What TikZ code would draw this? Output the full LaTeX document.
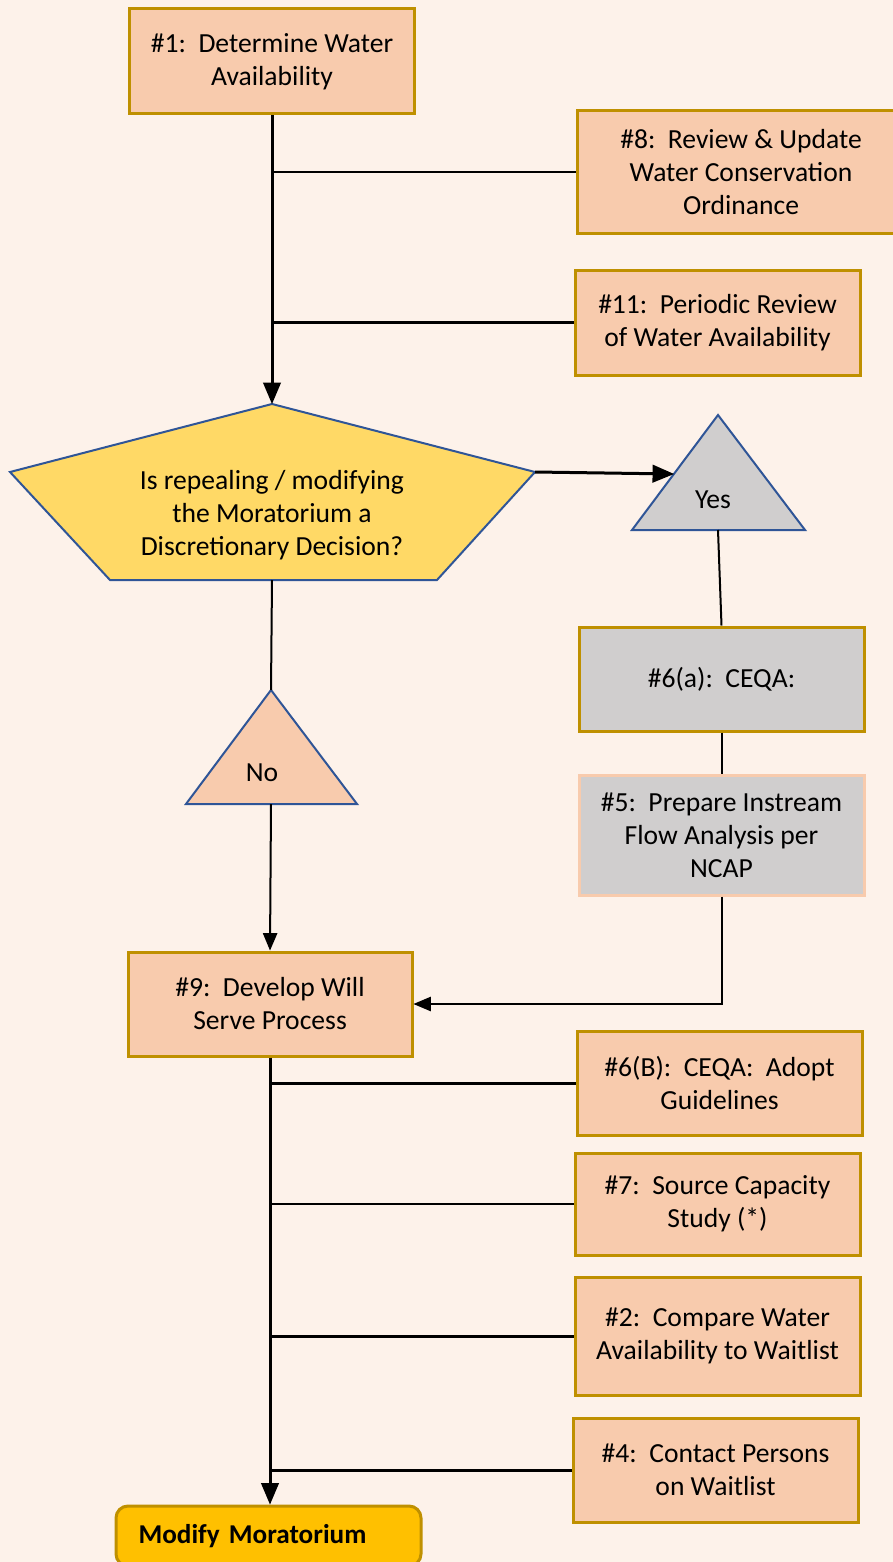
\documentclass[tikz,border=0pt]{standalone}
\usepackage{fontspec}
\setmainfont{Carlito}
\usetikzlibrary{arrows}

\definecolor{bgpeach}{HTML}{FDF2EA}
\definecolor{peach}{HTML}{F8CBAD}
\definecolor{goldline}{HTML}{BF9000}
\definecolor{greyfill}{HTML}{D0CECE}
\definecolor{yellowfill}{HTML}{FFD966}
\definecolor{goldfill}{HTML}{FFC000}
\definecolor{blueline}{HTML}{2F5597}

\tikzset{
    taskbox/.style={draw=goldline, line width=1.5pt, fill=peach, align=center,
        minimum width=142.5pt, minimum height=52.5pt, inner sep=2pt,
        font=\fontsize{13.8}{16.5}\selectfont},
    greybox/.style={taskbox, fill=greyfill},
    shapeline/.style={draw=blueline, line width=1pt},
    link/.style={line width=1pt},
    mainlink/.style={line width=1.5pt},
    label/.style={align=center, font=\fontsize{13.8}{16.5}\selectfont}
}

\begin{document}
\begin{tikzpicture}[x=0.5pt, y=-0.5pt]
    \useasboundingbox (0, 0) rectangle (893, 1562);
    \fill[bgpeach] (0, 0) rectangle (893, 1562);

    % Top column
    \node[taskbox] (avail) at (272, 61.5) {\#1:\ \ Determine Water\\Availability};
    \node[taskbox, minimum width=164pt, minimum height=61.5pt] (ordinance) at (741, 172.5)
        {\#8:\ \ Review \& Update\\Water Conservation\\Ordinance};
    \node[taskbox] (periodic) at (717.5, 322.5) {\#11:\ \ Periodic Review\\of Water Availability};

    % Decision
    \coordinate (dtop) at (272, 404);
    \coordinate (dright) at (535, 472);
    \coordinate (dbr) at (437, 580);
    \coordinate (dbl) at (110, 580);
    \coordinate (dleft) at (10, 472);
    \coordinate (dbot) at (272, 580);
    \filldraw[shapeline, fill=yellowfill] (dtop) -- (dright) -- (dbr) -- (dbl) -- (dleft) -- cycle;
    \node[label] (decision) at (272, 515) {Is repealing / modifying\\the Moratorium a\\Discretionary Decision?};

    % Yes
    \coordinate (yesapex) at (718, 415);
    \coordinate (yesleft) at (674, 474);
    \coordinate (yesbase) at (718, 530);
    \filldraw[shapeline, fill=greyfill] (yesapex) -- (805, 530) -- (632, 530) -- cycle;
    \node[label] (yes) at (713, 500) {Yes};

    % No
    \coordinate (noapex) at (271, 690);
    \coordinate (nobase) at (271, 804);
    \filldraw[shapeline, fill=peach] (noapex) -- (357, 804) -- (186, 804) -- cycle;
    \node[label] (no) at (262, 773) {No};

    % CEQA column
    \node[greybox, minimum height=52pt] (ceqa) at (721.5, 679) {\#6(a):\ \ CEQA:};
    \node[greybox, draw=peach, minimum height=60pt] (instream) at (721.5, 835)
        {\#5:\ \ Prepare Instream\\Flow Analysis per\\NCAP};

    % Bottom column
    \node[taskbox, minimum width=142pt, minimum height=52pt] (willserve) at (270, 1004)
        {\#9:\ \ Develop Will\\Serve Process};
    \node[taskbox, minimum height=52pt] (guidelines) at (719.5, 1083) {\#6(B):\ \ CEQA:\ \ Adopt\\Guidelines};
    \node[taskbox, minimum height=51pt] (capacity) at (717.5, 1204) {\#7:\ \ Source Capacity\\Study (*)};
    \node[taskbox, minimum height=59pt] (compare) at (717.5, 1336) {\#2:\ \ Compare Water\\Availability to Waitlist};
    \node[taskbox, minimum height=52pt] (contact) at (715.5, 1470) {\#4:\ \ Contact Persons\\on Waitlist};
    \node[taskbox, fill=goldfill, rounded corners=6pt, minimum width=152.5pt, minimum height=30pt,
        text width=130pt, align=left, inner xsep=11pt, font=\fontsize{13.6}{16.5}\selectfont\bfseries]
        (modify) at (268.5, 1536) {Modify Moratorium};

    % Connectors
    \draw[mainlink, -triangle 45] (avail.south) -- (dtop);
    \draw[link] (ordinance.west -| avail.south) -- (ordinance.west);
    \draw[mainlink] (periodic.west -| avail.south) -- (periodic.west);
    \draw[mainlink, -triangle 45] (dright) -- (yesleft);
    \draw[link] (yesbase) -- (ceqa.north);
    \draw[link] (ceqa.south) -- (instream.north);
    \draw[link, -triangle 45] (instream.south) |- (willserve.east);
    \draw[link] (dbot) -- (noapex);
    \draw[link, -triangle 45] (nobase) -- (willserve.north);
    \draw[mainlink, -triangle 45] (willserve.south) -- (willserve.south |- modify.north);
    \draw[mainlink] (guidelines.west -| willserve.south) -- (guidelines.west);
    \draw[link] (capacity.west -| willserve.south) -- (capacity.west);
    \draw[mainlink] (compare.west -| willserve.south) -- (compare.west);
    \draw[mainlink] (contact.west -| willserve.south) -- (contact.west);

\end{tikzpicture}
\end{document}
